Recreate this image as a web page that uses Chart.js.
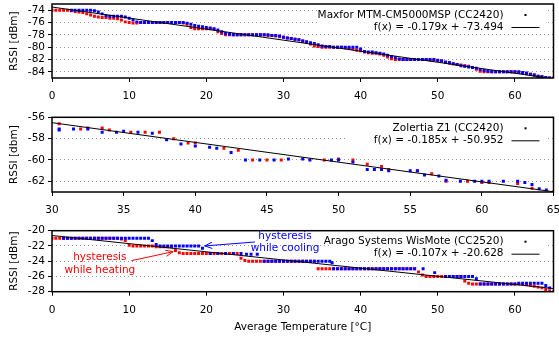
<!DOCTYPE html>
<html><head><meta charset="utf-8">
<script src="https://cdn.jsdelivr.net/npm/chart.js@4.4.1/dist/chart.umd.min.js"></script>
<style>
html,body{margin:0;padding:0;background:#fff;}
#wrap{position:relative;width:559px;height:338px;overflow:hidden;}
canvas{position:absolute;left:0;}
</style></head><body>
<div id="wrap">
<canvas id="c1" width="559" height="105" style="top:0px"></canvas>
<canvas id="c2" width="559" height="115" style="top:105px"></canvas>
<canvas id="c3" width="559" height="118" style="top:220px"></canvas>
</div>
<script>
// ---------- DATA (temperature °C, RSSI) ----------
const maxforHeat = [[0,-74.0],[0.5,-74.0],[1,-74.0],[1.5,-74.0],[2,-74.0],[2.5,-74.1],[3,-74.2],[3.5,-74.3],[4,-74.4],[4.5,-74.6],[5,-74.8],[5.5,-75.0],[6,-75.1],[6.5,-75.2],[7,-75.2],[7.5,-75.3],[8,-75.3],[8.5,-75.4],[9,-75.6],[9.5,-75.9],[10,-76.0],[10.5,-76.1],[11,-76.1],[11.5,-76.0],[12,-76.0],[12.5,-76.0],[13,-76.0],[13.5,-76.0],[14,-76.0],[14.5,-76.0],[15,-76.0],[15.5,-76.0],[16,-76.0],[16.5,-76.0],[17,-76.1],[17.5,-76.3],[18,-76.8],[18.5,-77.0],[19,-77.0],[19.5,-77.0],[20,-77.0],[20.5,-77.0],[21,-77.1],[21.5,-77.5],[22,-77.8],[22.5,-78.0],[23,-78.0],[23.5,-78.0],[24,-78.0],[24.5,-78.0],[25,-78.0],[25.5,-78.0],[26,-78.0],[26.5,-78.0],[27,-78.0],[27.5,-78.0],[28,-78.1],[28.5,-78.1],[29,-78.2],[29.5,-78.3],[30,-78.4],[30.5,-78.5],[31,-78.6],[31.5,-78.7],[32,-78.8],[32.5,-79.0],[33,-79.2],[33.5,-79.5],[34,-79.8],[34.5,-79.9],[35,-80.0],[35.5,-80.0],[36,-80.0],[36.5,-80.0],[37,-80.0],[37.5,-80.0],[38,-80.1],[38.5,-80.2],[39,-80.3],[39.5,-80.5],[40,-80.6],[40.5,-80.8],[41,-80.9],[41.5,-81.0],[42,-81.0],[42.5,-81.1],[43,-81.3],[43.5,-81.6],[44,-81.9],[44.5,-82.0],[45,-82.0],[45.5,-82.0],[46,-82.0],[46.5,-82.0],[47,-82.0],[47.5,-82.0],[48,-82.0],[48.5,-82.0],[49,-82.1],[49.5,-82.1],[50,-82.2],[50.5,-82.3],[51,-82.5],[51.5,-82.6],[52,-82.7],[52.5,-82.8],[53,-82.9],[53.5,-83.0],[54,-83.1],[54.5,-83.3],[55,-83.6],[55.5,-83.9],[56,-84.0],[56.5,-84.0],[57,-84.0],[57.5,-84.0],[58,-84.0],[58.5,-84.0],[59,-84.0],[59.5,-84.0],[60,-84.0],[60.5,-84.1],[61,-84.2],[61.5,-84.3],[62,-84.4],[62.5,-84.5],[63,-84.7],[63.5,-84.8],[64,-84.9],[64.5,-85.0],[65,-85.0]];
const maxforCool = [[2.5,-74.0],[3,-74.0],[3.5,-74.0],[4,-74.0],[4.5,-74.0],[5,-74.0],[5.5,-74.1],[6,-74.3],[6.5,-74.6],[7,-74.9],[7.5,-75.0],[8,-75.0],[8.5,-75.0],[9,-75.0],[9.5,-75.1],[10,-75.3],[10.5,-75.6],[11,-75.9],[11.5,-76.0],[12,-76.0],[12.5,-76.0],[13,-76.0],[13.5,-76.0],[14,-76.0],[14.5,-76.0],[15,-76.0],[15.5,-76.0],[16,-76.0],[16.5,-76.0],[17,-76.0],[17.5,-76.1],[18,-76.3],[18.5,-76.5],[19,-76.6],[19.5,-76.7],[20,-76.8],[20.5,-76.9],[21,-77.0],[21.5,-77.2],[22,-77.5],[22.5,-77.8],[23,-77.9],[23.5,-78.0],[24,-78.0],[24.5,-78.0],[25,-78.0],[25.5,-78.0],[26,-78.0],[26.5,-78.0],[27,-78.0],[27.5,-78.0],[28,-78.0],[28.5,-78.1],[29,-78.1],[29.5,-78.2],[30,-78.4],[30.5,-78.5],[31,-78.6],[31.5,-78.7],[32,-78.8],[32.5,-79.0],[33,-79.1],[33.5,-79.3],[34,-79.4],[34.5,-79.6],[35,-79.8],[35.5,-79.9],[36,-79.9],[36.5,-80.0],[37,-80.0],[37.5,-80.0],[38,-80.0],[38.5,-80.0],[39,-80.0],[39.5,-80.0],[40,-80.3],[40.5,-80.7],[41,-80.8],[41.5,-80.8],[42,-80.9],[42.5,-81.0],[43,-81.1],[43.5,-81.3],[44,-81.5],[44.5,-81.7],[45,-81.9],[45.5,-82.0],[46,-82.0],[46.5,-82.0],[47,-82.0],[47.5,-82.0],[48,-82.0],[48.5,-82.0],[49,-82.0],[49.5,-82.0],[50,-82.1],[50.5,-82.2],[51,-82.4],[51.5,-82.5],[52,-82.7],[52.5,-82.8],[53,-83.0],[53.5,-83.1],[54,-83.2],[54.5,-83.3],[55,-83.4],[55.5,-83.6],[56,-83.8],[56.5,-83.9],[57,-84.0],[57.5,-84.0],[58,-84.0],[58.5,-84.0],[59,-84.0],[59.5,-84.0],[60,-84.0],[60.5,-84.0],[61,-84.1],[61.5,-84.2],[62,-84.4],[62.5,-84.5],[63,-84.7],[63.5,-84.8],[64,-84.9],[64.5,-85.0]];
const maxforFit = [[0,-73.494],[65,-85.129]];

const zolertiaHeat = [[30.5,-56.6],[32,-57.1],[32.5,-57.0],[33.5,-57.0],[34,-57.2],[35.5,-57.4],[36.5,-57.4],[37.5,-57.4],[38.5,-58.0],[39.5,-58.4],[40,-58.4],[42,-58.9],[43,-59.1],[44,-60.0],[45,-60.0],[46,-60.0],[49,-60.0],[50,-59.9],[51,-60.0],[52,-60.4],[53,-60.6],[53.5,-60.9],[55.5,-61.0],[56.5,-61.3],[57.5,-62.0],[59,-62.0],[60,-62.1],[60.5,-62.1],[62.5,-62.2],[63.5,-62.65],[65,-63.0]];
const zolertiaCool = [[30.5,-57.1],[30.5,-57.2],[31.5,-57.1],[32.5,-57.1],[33.5,-57.4],[34.5,-57.4],[35,-57.3],[36,-57.4],[37,-57.5],[38,-58.1],[39,-58.5],[40,-58.7],[41,-58.8],[41.5,-58.9],[42.5,-59.3],[43.5,-60.0],[44.5,-60.0],[45.5,-60.0],[46.5,-59.9],[47.5,-59.9],[48,-60.0],[49.5,-60.0],[50,-60.0],[51,-60.2],[52,-60.9],[52.5,-60.9],[53,-60.9],[53.5,-61.0],[55,-61.0],[55.5,-61.0],[56,-61.4],[57,-61.5],[57.5,-61.9],[58.5,-62.0],[59.5,-62.0],[60,-62.0],[60.5,-62.0],[61.5,-62.0],[62.5,-62.0],[63,-62.1],[63.5,-62.3],[64,-62.7],[64.5,-62.8]];
const zolertiaFit = [[30,-56.502],[65,-62.977]];

const aragoHeat = [[0,-21.0],[0.5,-21.0],[1,-21.0],[1.5,-21.0],[2,-21.0],[2.5,-21.0],[3,-21.0],[3.5,-21.0],[4,-21.0],[4.5,-21.0],[5,-21.0],[5.5,-21.0],[6,-21.0],[6.5,-21.0],[7,-21.0],[7.5,-21.0],[8,-21.0],[8.5,-21.0],[9,-21.1],[9.5,-21.3],[10,-21.9],[10.5,-22.0],[11,-22.0],[11.5,-22.0],[12,-22.0],[12.5,-22.0],[13,-22.0],[13.5,-22.1],[14,-22.1],[14.5,-22.1],[15,-22.1],[15.5,-22.1],[16,-22.6],[16.5,-22.9],[17,-23.0],[17.5,-23.0],[18,-23.0],[18.5,-23.0],[19,-23.0],[19.5,-23.0],[20,-23.0],[20.5,-23.0],[21,-23.0],[21.5,-23.0],[22,-23.0],[22.5,-23.0],[23,-23.0],[23.5,-23.0],[24,-23.0],[24.5,-23.6],[25,-23.9],[25.5,-24.0],[26,-24.0],[26.5,-24.0],[27,-24.0],[27.5,-24.0],[28,-24.0],[28.5,-24.0],[29,-24.0],[29.5,-24.0],[30,-24.0],[30.5,-24.0],[31,-24.0],[31.5,-24.0],[32,-24.0],[32.5,-24.0],[33,-24.0],[33.5,-24.0],[34,-24.0],[34.5,-25.0],[35,-25.0],[35.5,-25.0],[36,-25.0],[36.5,-25.0],[37,-25.0],[37.5,-25.0],[38,-25.0],[38.5,-25.0],[39,-25.0],[39.5,-25.0],[40,-25.0],[40.5,-25.0],[41,-25.0],[41.5,-25.0],[42,-25.0],[42.5,-25.0],[43,-25.0],[43.5,-25.0],[44,-25.0],[44.5,-25.0],[45,-25.0],[45.5,-25.0],[46,-25.0],[46.5,-25.0],[47,-25.0],[47.5,-25.4],[48,-25.8],[48.5,-26.0],[49,-26.0],[49.5,-26.0],[50,-26.0],[50.5,-26.0],[51,-26.0],[51.5,-26.0],[52,-26.0],[52.5,-26.0],[53,-26.0],[53.5,-26.6],[54,-26.9],[54.5,-27.0],[55,-27.0],[55.5,-27.0],[56,-27.0],[56.5,-27.0],[57,-27.0],[57.5,-27.0],[58,-27.0],[58.5,-27.0],[59,-27.0],[59.5,-27.0],[60,-27.0],[60.5,-27.0],[61,-27.0],[61.5,-27.1],[62,-27.2],[62.5,-27.3],[63,-27.4],[63.5,-27.5],[64,-27.7],[64.5,-27.9],[65,-28.0]];
const aragoCool = [[1.5,-21.0],[2,-21.0],[2.5,-21.0],[3,-21.0],[3.5,-21.0],[4,-21.0],[4.5,-21.0],[5,-21.0],[5.5,-21.0],[6,-21.0],[6.5,-21.0],[7,-21.0],[7.5,-21.0],[8,-21.0],[8.5,-21.0],[9,-21.0],[9.5,-21.0],[10,-21.0],[10.5,-21.0],[11,-21.0],[11.5,-21.0],[12,-21.0],[12.5,-21.0],[13,-21.3],[13.5,-21.8],[14,-22.0],[14.5,-22.0],[15,-22.0],[15.5,-22.0],[16,-22.0],[16.5,-22.0],[17,-22.0],[17.5,-22.0],[18,-22.0],[18.5,-22.0],[19,-22.0],[19.5,-22.3],[20.5,-23.0],[21.5,-23.0],[22.5,-23.0],[23.5,-23.0],[24.5,-23.0],[25.2,-23.1],[25.8,-23.1],[26.6,-23.1],[27.5,-24.0],[28,-24.0],[28.5,-24.0],[29,-24.0],[29.5,-24.0],[30,-24.0],[30.5,-24.0],[31,-24.0],[31.5,-24.0],[32,-24.0],[32.5,-24.0],[33,-24.0],[33.5,-24.0],[34,-24.0],[34.5,-24.0],[35,-24.0],[35.5,-24.0],[36,-24.0],[36.3,-24.2],[36.5,-25.0],[37,-25.0],[37.5,-25.0],[38,-25.0],[38.5,-25.0],[39,-25.0],[39.5,-25.0],[40,-25.0],[40.5,-25.0],[41,-25.0],[41.5,-25.0],[42,-25.0],[42.5,-25.0],[43,-25.0],[43.5,-25.0],[44,-25.0],[44.5,-25.0],[45,-25.0],[45.5,-25.0],[46,-25.0],[46.5,-25.0],[47,-25.0],[48.1,-25.0],[49.6,-25.5],[51,-26.0],[51.5,-26.0],[52,-26.0],[52.5,-26.0],[53,-26.0],[53.5,-26.0],[54,-26.0],[54.5,-26.0],[55,-26.3],[55.5,-27.0],[56,-27.0],[56.5,-27.0],[57,-27.0],[57.5,-27.0],[58,-27.0],[58.5,-27.0],[59,-27.0],[59.5,-27.0],[60,-27.0],[60.5,-26.9],[61,-26.9],[61.5,-26.9],[62,-26.9],[62.5,-26.9],[63,-26.9],[63.5,-26.9],[64,-27.2],[64.5,-27.5]];
const aragoFit = [[0,-20.628],[65,-27.583]];

const xTicksFull = [0,10,20,30,40,50,60];
const xTicksZ1 = [30,35,40,45,50,55,60,65];
const yTicksMaxfor = [-84,-82,-80,-78,-76,-74];
const yTicksZ1 = [-62,-60,-58,-56];
const yTicksArago = [-28,-26,-24,-22,-20];

const legendMaxfor = ['Maxfor MTM-CM5000MSP (CC2420)', 'f(x) = -0.179x + -73.494'];
const legendZ1 = ['Zolertia Z1 (CC2420)', 'f(x) = -0.185x + -50.952'];
const legendArago = ['Arago Systems WisMote (CC2520)', 'f(x) = -0.107x + -20.628'];

// annotations (data coordinates)
const heatNote = {lines:['hysteresis','while heating'], at:[6.2,-23.5], from:[10.3,-23.93], to:[15.7,-22.75]};
const coolNote = {lines:['hysteresis','while cooling'], at:[30.2,-20.7], from:[26.3,-21.48], to:[19.8,-22.0]};

// ---------- RENDERING ----------
const FAM = "'DejaVu Sans', sans-serif";
const FS = 10.5;
const RED = '#ff0000', BLUE = '#0000ff';
const pts = a => a.map(p => ({x:p[0], y:p[1]}));

function arrow(ctx, x0, y0, x1, y1, color) {
  ctx.save();
  ctx.strokeStyle = color; ctx.lineWidth = 1;
  ctx.beginPath(); ctx.moveTo(x0, y0); ctx.lineTo(x1, y1); ctx.stroke();
  const ang = Math.atan2(y1 - y0, x1 - x0), L = 8, W = 0.4;
  ctx.beginPath();
  ctx.moveTo(x1 - L*Math.cos(ang - W), y1 - L*Math.sin(ang - W));
  ctx.lineTo(x1, y1);
  ctx.lineTo(x1 - L*Math.cos(ang + W), y1 - L*Math.sin(ang + W));
  ctx.stroke();
  ctx.restore();
}

function framePlugin(cfg) {
  return {
    id: 'frame',
    beforeDatasetsDraw(chart) {
      const {ctx, chartArea: a} = chart;
      ctx.save();
      ctx.fillStyle = '#fff';
      ctx.fillRect(cfg.boxLeft, a.top + 5, a.right - 6 - cfg.boxLeft, 25);
      ctx.restore();
    },
    afterDraw(chart) {
      const {ctx, chartArea: a, scales} = chart;
      ctx.save();
      // legend
      ctx.font = FS + 'px ' + FAM;
      ctx.fillStyle = '#000';
      ctx.textAlign = 'right';
      ctx.textBaseline = 'middle';
      const tx = a.right - 50;
      ctx.fillText(cfg.legend[0], tx, a.top + 11);
      ctx.fillText(cfg.legend[1], tx, a.top + 23);
      ctx.fillRect(a.right - 29, a.top + 10, 2, 2);
      ctx.strokeStyle = '#000'; ctx.lineWidth = 1;
      ctx.beginPath(); ctx.moveTo(a.right - 42, a.top + 23.5); ctx.lineTo(a.right - 14, a.top + 23.5); ctx.stroke();
      // annotations
      (cfg.notes || []).forEach(n => {
        ctx.fillStyle = n.color;
        ctx.textAlign = 'center';
        const x = scales.x.getPixelForValue(n.at[0]);
        const y = scales.y.getPixelForValue(n.at[1]);
        n.lines.forEach((t, i) => ctx.fillText(t, x, y + i * 12.5));
        arrow(ctx, scales.x.getPixelForValue(n.from[0]), scales.y.getPixelForValue(n.from[1]),
                   scales.x.getPixelForValue(n.to[0]), scales.y.getPixelForValue(n.to[1]), n.color);
      });
      // frame
      ctx.strokeStyle = '#000'; ctx.lineWidth = 1.5;
      ctx.strokeRect(a.left, a.top, a.right - a.left, a.bottom - a.top);
      ctx.restore();
    }
  };
}

function makeChart(id, cfg) {
  const font = {family: FAM, size: FS};
  return new Chart(document.getElementById(id), {
    type: 'scatter',
    data: {datasets: [
      {data: pts(cfg.fit), showLine: true, borderColor: '#000', borderWidth: 1, pointRadius: 0, order: 0},
      {data: pts(cfg.cool), backgroundColor: BLUE, pointStyle: 'rect', pointRadius: 2.1, pointBorderWidth: 0, order: 1},
      {data: pts(cfg.heat), backgroundColor: RED, pointStyle: 'rect', pointRadius: 2.1, pointBorderWidth: 0, order: 2}
    ]},
    options: {
      responsive: false, animation: false,
      events: [],
      layout: {padding: {left: 0, right: 5.5, top: cfg.padTop, bottom: cfg.padBottom}},
      plugins: {legend: {display: false}, tooltip: {enabled: false}},
      scales: {
        x: {
          type: 'linear', min: cfg.xmin, max: cfg.xmax,
          afterBuildTicks: s => { s.ticks = cfg.xTicks.map(v => ({value: v})); },
          afterFit: s => { s.height = cfg.xH; s.paddingLeft = 0; s.paddingRight = 0; },
          grid: {drawOnChartArea: false, drawTicks: true, tickLength: 4, tickColor: '#000', tickWidth: 1},
          border: {display: false},
          ticks: {font, color: '#000', padding: 8, maxRotation: 0, autoSkip: false},
          title: cfg.xTitle ? {display: true, text: cfg.xTitle, font, color: '#000', padding: {top: 0, bottom: 4}} : {display: false}
        },
        y: {
          type: 'linear', min: cfg.ymin, max: cfg.ymax,
          afterBuildTicks: s => { s.ticks = cfg.yTicks.map(v => ({value: v})); },
          afterFit: s => { s.width = 52; s.paddingTop = 0; s.paddingBottom = 0; },
          grid: {drawOnChartArea: true, color: '#999', lineWidth: 1, drawTicks: true, tickLength: 4, tickColor: '#000', tickWidth: 1},
          border: {display: false, dash: [1, 3]},
          ticks: {font, color: '#000', padding: 3, autoSkip: false},
          title: {display: true, text: cfg.yTitle, font, color: '#000', padding: {top: 7.7, bottom: 0}}
        }
      }
    },
    plugins: [framePlugin(cfg)]
  });
}

makeChart('c1', {heat: maxforHeat, cool: maxforCool, fit: maxforFit, xmin: 0, xmax: 65, ymin: -85, ymax: -73,
  xTicks: xTicksFull, yTicks: yTicksMaxfor, padTop: 3, padBottom: 0, xH: 27, yTitle: 'RSSI [dBm]',
  legend: legendMaxfor, boxLeft: 317});
makeChart('c2', {heat: zolertiaHeat, cool: zolertiaCool, fit: zolertiaFit, xmin: 30, xmax: 65, ymin: -63, ymax: -56,
  xTicks: xTicksZ1, yTicks: yTicksZ1, padTop: 12.3, padBottom: 0, xH: 28, yTitle: 'RSSI [dbm]',
  legend: legendZ1, boxLeft: 345});
makeChart('c3', {heat: aragoHeat, cool: aragoCool, fit: aragoFit, xmin: 0, xmax: 65, ymin: -28, ymax: -20,
  xTicks: xTicksFull, yTicks: yTicksArago, padTop: 10.7, padBottom: 0, xH: 46.3, yTitle: 'RSSI [dBm]',
  xTitle: 'Average Temperature [°C]', legend: legendArago, boxLeft: 330,
  notes: [Object.assign({color: RED}, heatNote), Object.assign({color: BLUE}, coolNote)]});
</script>
</body></html>
